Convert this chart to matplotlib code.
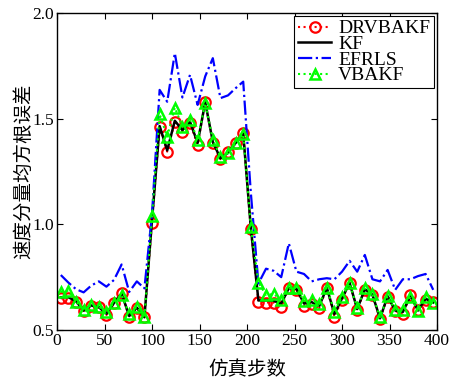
import numpy as np
import matplotlib
matplotlib.use('Agg')
import matplotlib.pyplot as plt

plt.rcParams['font.family'] = ['Liberation Serif', 'Noto Sans CJK SC']
plt.rcParams['mathtext.fontset'] = 'stix'

###############################################################################
# Data
# -----------------------------------
steps = np.arange(4, 400, 8)

rmse_drvbakf = [0.650, 0.650, 0.634, 0.590, 0.614, 0.607, 0.571, 0.626, 0.677, 0.560,
                0.603, 0.560, 1.008, 1.462, 1.344, 1.486, 1.438, 1.480, 1.376, 1.580,
                1.386, 1.308, 1.340, 1.386, 1.434, 0.977, 0.634, 0.630, 0.630, 0.610,
                0.700, 0.690, 0.614, 0.623, 0.603, 0.700, 0.563, 0.642, 0.724, 0.595,
                0.690, 0.666, 0.550, 0.658, 0.590, 0.576, 0.666, 0.595, 0.642, 0.634]

rmse_kf = [0.655, 0.655, 0.636, 0.592, 0.616, 0.608, 0.577, 0.628, 0.672, 0.566,
           0.606, 0.560, 1.020, 1.465, 1.350, 1.490, 1.445, 1.485, 1.385, 1.578,
           1.390, 1.312, 1.338, 1.385, 1.430, 0.983, 0.640, 0.640, 0.638, 0.625,
           0.698, 0.695, 0.625, 0.632, 0.613, 0.700, 0.575, 0.650, 0.722, 0.599,
           0.693, 0.667, 0.555, 0.660, 0.592, 0.585, 0.662, 0.592, 0.648, 0.630]

rmse_efrls = [0.760, 0.724, 0.693, 0.678, 0.710, 0.730, 0.705, 0.737, 0.810, 0.680,
              0.730, 0.697, 1.050, 1.636, 1.580, 1.810, 1.600, 1.707, 1.565, 1.700,
              1.786, 1.597, 1.610, 1.644, 1.675, 1.150, 0.720, 0.790, 0.780, 0.750,
              0.910, 0.776, 0.765, 0.730, 0.740, 0.745, 0.740, 0.776, 0.827, 0.776,
              0.855, 0.740, 0.730, 0.784, 0.690, 0.740, 0.740, 0.755, 0.765, 0.690]

rmse_vbakf = [0.680, 0.686, 0.634, 0.595, 0.618, 0.610, 0.584, 0.630, 0.666, 0.574,
              0.610, 0.560, 1.040, 1.521, 1.415, 1.552, 1.462, 1.494, 1.400, 1.573,
              1.400, 1.320, 1.336, 1.383, 1.426, 0.989, 0.724, 0.666, 0.670, 0.642,
              0.697, 0.700, 0.637, 0.642, 0.623, 0.700, 0.587, 0.658, 0.720, 0.603,
              0.697, 0.669, 0.560, 0.661, 0.595, 0.595, 0.658, 0.590, 0.655, 0.626]

x_ticks = np.arange(0, 401, 50)
y_ticks = [0.5, 1.0, 1.5, 2.0]

###############################################################################
# Figure
# ------
fig = plt.figure(figsize=(4.54, 3.89), dpi=100)
ax = fig.add_axes([0.1256, 0.1517, 0.837, 0.815])

ax.plot(steps, rmse_drvbakf, color='#ff0000', linestyle=':', linewidth=1.5,
        marker='o', markersize=7.5, markerfacecolor='none', markeredgewidth=1.6,
        label='DRVBAKF')
ax.plot(steps, rmse_kf, color='black', linestyle='-', linewidth=1.8, label='KF')
ax.plot(steps, rmse_efrls, color='#0000ff', linestyle='-.', linewidth=1.6, label='EFRLS')
ax.plot(steps, rmse_vbakf, color='#00ff00', linestyle=':', linewidth=1.5,
        marker='^', markersize=7.5, markerfacecolor='none', markeredgewidth=1.8,
        label='VBAKF')

ax.set_xlim(0, 400)
ax.set_ylim(0.5, 2.0)
ax.set_xticks(x_ticks)
ax.set_yticks(y_ticks)
ax.set_yticklabels(['%.1f' % v for v in y_ticks])
ax.tick_params(direction='in', top=True, right=True, length=4, labelsize=12.5, pad=2)
for s in ax.spines.values():
    s.set_linewidth(1.0)

ax.set_xlabel('仿真步数', fontsize=14, labelpad=9)
ax.set_ylabel('速度分量均方根误差', fontsize=14, labelpad=-0.5)

leg = ax.legend(loc='upper right', fontsize=14, labelspacing=-0.1, handlelength=1.7,
                handletextpad=0.35, borderpad=0.2, borderaxespad=0.15, fancybox=False,
                edgecolor='black', framealpha=1)
leg.get_frame().set_linewidth(0.8)

fig.savefig('out.png', dpi=100)
